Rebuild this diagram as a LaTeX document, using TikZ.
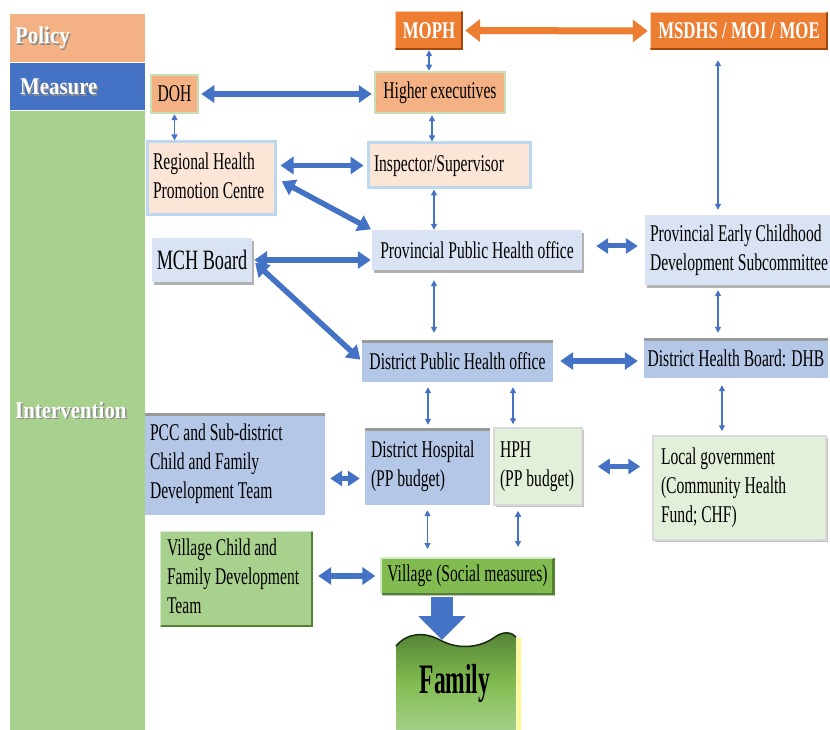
\documentclass[tikz,border=0pt]{standalone}
\usepackage{fontspec}
\setmainfont{Liberation Serif}[FakeStretch=0.65]
\newfontfamily\bandfont{Liberation Serif}[FakeStretch=0.87]
\newfontfamily\orgfont{Liberation Serif}[FakeStretch=0.7]
\newfontfamily\famfont{Liberation Serif}[FakeStretch=0.56]
\usetikzlibrary{arrows.meta,shadows,calc}
\definecolor{cPolicy}{HTML}{F4B183}
\definecolor{cMeasure}{HTML}{4472C4}
\definecolor{cInterv}{HTML}{A9D18E}
\definecolor{cOrange}{HTML}{ED7D31}
\definecolor{cOrangeDk}{HTML}{A0480F}
\definecolor{cOrangeLt}{HTML}{F8CBAD}
\definecolor{cSalmon}{HTML}{F4B183}
\definecolor{cGlowGreen}{HTML}{C5E0B4}
\definecolor{cPeach}{HTML}{FBE5D6}
\definecolor{cGlowBlue}{HTML}{BDD7EE}
\definecolor{cLightBlue}{HTML}{DAE3F3}
\definecolor{cMidBlue}{HTML}{B4C7E7}
\definecolor{cPaleGreen}{HTML}{E2F0D9}
\definecolor{cGreen}{HTML}{A9D18E}
\definecolor{cGreenDk}{HTML}{548235}
\definecolor{cGreenLt}{HTML}{D5EAC6}
\definecolor{cVillage}{HTML}{82BC50}
\definecolor{cArrow}{HTML}{4472C4}
\newcommand\lbox[2]{\makebox[#1][l]{\begin{tabular}{@{}l@{}}#2\end{tabular}}}
\newcommand\bandlabel[4]{%
  \node[bandlbl,text=black!45,anchor=base west] at (#2+1.5,#3+1.5) {#4};
  \node[bandlbl,anchor=base west] (#1) at (#2,#3) {#4};}
\newcommand\bevel[3]{%
  \draw[#2,line width=2.5pt] ([shift={(1.25pt,1.25pt)}]#1.south west) -- ([shift={(-1.25pt,1.25pt)}]#1.south east) -- ([shift={(-1.25pt,-1.25pt)}]#1.north east);
  \draw[#3,line width=1.5pt] ([shift={(0.75pt,2pt)}]#1.south west) -- ([shift={(0.75pt,-0.75pt)}]#1.north west) -- ([shift={(-2pt,-0.75pt)}]#1.north east);}
\newcommand\topedge[1]{%
  \draw[black!40, line width=3pt] ([yshift=-1.5pt]#1.north west) -- ([yshift=-1.5pt]#1.north east);}
\begin{document}
\begin{tikzpicture}[x=1pt,y=-1pt,
  every node/.style={font=\fontsize{24}{29}\selectfont, text=black, inner xsep=6pt, inner ysep=0pt},
  bandlbl/.style={font=\bandfont\bfseries\fontsize{24}{29}\selectfont, text=white, inner sep=0pt},
  orgbox/.style={fill=cOrange, font=\orgfont\bfseries\fontsize{24}{29}\selectfont, text=white},
  salmonbox/.style={fill=cSalmon, draw=cGlowGreen, line width=2.5pt},
  peachbox/.style={fill=cPeach, draw=cGlowBlue, line width=3pt},
  lbbox/.style={fill=cLightBlue, drop shadow={shadow xshift=2pt, shadow yshift=-3pt, opacity=0.3, fill=black}},
  mbbox/.style={fill=cMidBlue},
  pgbox/.style={fill=cPaleGreen, draw=black!15, line width=1.5pt, drop shadow={shadow xshift=2pt, shadow yshift=-2pt, opacity=0.25, fill=black}},
  gbox/.style={fill=cGreen},
  vbox/.style={fill=cVillage, draw=white, line width=2pt, drop shadow={shadow xshift=1.5pt, shadow yshift=-2pt, opacity=0.25, fill=black}},
  famstyle/.style={font=\famfont\bfseries\fontsize{42}{50}\selectfont, text=black, inner sep=0pt},
  bigarrow/.style={draw=cArrow, line width=5.5pt, {Triangle[width=17pt,length=13pt]}-{Triangle[width=17pt,length=13pt]}},
  midarrow/.style={draw=cArrow, line width=5pt, {Triangle[width=15pt,length=12pt]}-{Triangle[width=15pt,length=12pt]}},
  thinarrow/.style={draw=cArrow, line width=1.5pt, {Triangle[width=6pt,length=6pt]}-{Triangle[width=6pt,length=6pt]}},
  orangearrow/.style={draw=cOrange, line width=7pt, {Triangle[width=22pt,length=15pt]}-{Triangle[width=22pt,length=15pt]}},
  blockarrow/.style={draw=cArrow, line width=22pt, -{Triangle[width=46pt,length=24pt]}}
]
\useasboundingbox (0,0) rectangle (830,730);
% ---- left bands
\fill[cPolicy] (10,14) rectangle (145,62);
\fill[cMeasure] (10,63) rectangle (145,110);
\fill[cInterv] (10,111) rectangle (145,730);
\bandlabel{policy}{15}{44}{Policy}
\bandlabel{measure}{20}{95}{Measure}
\bandlabel{intervention}{15}{418}{Intervention}
% ---- boxes
\node[orgbox, minimum width=68pt, minimum height=39pt] (moph) at (429,30.5) {MOPH};
\bevel{moph}{cOrangeDk}{cOrangeLt}
\node[orgbox, minimum width=178pt, minimum height=38pt] (msdhs) at (739,31) {MSDHS / MOI / MOE};
\bevel{msdhs}{cOrangeDk}{cOrangeLt}
\node[salmonbox, minimum width=130pt, minimum height=41pt] (hexec) at (440,92.5) {Higher executives};
\node[salmonbox, minimum width=47pt, minimum height=38pt, inner xsep=3pt] (doh) at (174.5,94) {DOH};
\node[peachbox, minimum width=128pt, minimum height=73pt] (rhpc) at (211,178.5) {\lbox{116pt}{Regional Health\\Promotion Centre}};
\node[peachbox, minimum width=162pt, minimum height=45pt] (insp) at (449,165.5) {\lbox{150pt}{Inspector/Supervisor}};
\node[lbbox, minimum width=210pt, minimum height=40pt] (pph) at (477,250) {Provincial Public Health office};
\node[lbbox, minimum width=100pt, minimum height=44pt, inner xsep=3pt, font=\fontsize{28}{33}\selectfont] (mch) at (202,260) {MCH Board};
\node[lbbox, minimum width=185pt, minimum height=70pt, inner xsep=5pt] (pecds) at (737.5,250) {\lbox{175pt}{Provincial Early Childhood\\Development Subcommittee}};
\node[mbbox, minimum width=191pt, minimum height=42pt] (dph) at (457.5,361) {District Public Health office};
\topedge{dph}
\node[mbbox, minimum width=184pt, minimum height=40pt, inner xsep=3pt] (dhb) at (736,358) {District Health Board: DHB};
\topedge{dhb}
\node[mbbox, minimum width=180pt, minimum height=102pt, inner xsep=5pt] (pcc) at (235,464) {\lbox{170pt}{PCC and Sub-district\\Child and Family\\Development Team}};
\topedge{pcc}
\node[mbbox, minimum width=125pt, minimum height=77pt] (dhosp) at (427.5,466.5) {\lbox{113pt}{District Hospital\\(PP budget)}};
\topedge{dhosp}
\node[pgbox, minimum width=88pt, minimum height=77pt] (hph) at (538,466.5) {\lbox{76pt}{HPH\\(PP budget)}};
\node[pgbox, minimum width=173pt, minimum height=104pt, inner xsep=8pt] (lgov) at (739.5,488) {\lbox{157pt}{Local government\\(Community Health\\Fund; CHF)}};
\node[gbox, minimum width=153pt, minimum height=96pt, inner xsep=7pt] (vcfdt) at (236.5,579) {\lbox{139pt}{Village Child and\\Family Development\\Team}};
\bevel{vcfdt}{cGreenDk}{cGreenLt}
\node[vbox, minimum width=169pt, minimum height=36pt] (village) at (467.5,576) {Village (Social measures)};
\bevel{village}{cGreenDk}{cGreenLt}
% ---- family banner
\shade[top color=cGreenDk, bottom color=cGreen, middle color=cVillage]
  (396,646) .. controls (408,632) and (425,632) .. (440,640)
  .. controls (458,650) and (480,648) .. (495,637)
  .. controls (503,631) and (512,632) .. (516,637) -- (516,735) -- (396,735) -- cycle;
\draw[black!70!cGreenDk, line width=1.5pt]
  (396,646) .. controls (408,632) and (425,632) .. (440,640)
  .. controls (458,650) and (480,648) .. (495,637)
  .. controls (503,631) and (512,632) .. (516,637);
\draw[yellow!45, line width=4pt] (519,638) -- (519,735);
\node[famstyle] (family) at (455,683) {Family};
\coordinate (famtip) at (442,640);
% ---- connectors
\draw[orangearrow, shorten <=2pt, shorten >=2pt] (moph.east) -- (msdhs.west);
\coordinate (a3) at ([xshift=-8pt]hexec.south);
\coordinate (a4) at ([xshift=-15pt]insp.south);
\coordinate (a5) at ([xshift=-43pt]pph.south);
\coordinate (a6) at ([xshift=-21pt]msdhs.south);
\coordinate (a7) at ([xshift=-19.5pt]pecds.south);
\coordinate (a8) at ([xshift=-29.5pt]dph.south);
\coordinate (a9) at ([xshift=55.5pt]dph.south);
\coordinate (a10) at ([xshift=-14pt]dhb.south);
\coordinate (a11) at (dhosp.south);
\coordinate (a12) at ([xshift=-20pt]hph.south);
\draw[thinarrow] (moph.south) -- (moph.south |- hexec.north);
\draw[thinarrow] (doh.south) -- (doh.south |- rhpc.north);
\draw[thinarrow, shorten <=1pt] (a3) -- (a3 |- insp.north);
\draw[thinarrow] (a4) -- (a4 |- pph.north);
\draw[thinarrow, shorten <=10pt, shorten >=7pt] (a5) -- (a5 |- dph.north);
\draw[thinarrow, shorten <=10pt, shorten >=5pt] (a6) -- (a6 |- pecds.north);
\draw[thinarrow, shorten <=5pt, shorten >=5pt] (a7) -- (a7 |- dhb.north);
\draw[thinarrow, shorten <=5pt, shorten >=3pt] (a8) -- (a8 |- dhosp.north);
\draw[thinarrow, shorten <=5pt, shorten >=3pt] (a9) -- (a9 |- hph.north);
\draw[thinarrow, shorten <=7pt, shorten >=4pt] (a10) -- (a10 |- lgov.north);
\draw[thinarrow, shorten <=5pt, shorten >=8pt] (a11) -- (a11 |- village.north);
\draw[thinarrow, shorten <=5pt, shorten >=10pt] (a12) -- (a12 |- village.north);
\draw[bigarrow, shorten <=2pt, shorten >=2pt] (doh.east) -- (doh.east -| hexec.west);
\draw[bigarrow, shorten <=4pt, shorten >=3pt] (insp.west -| rhpc.east) -- (insp.west);
\draw[bigarrow, shorten <=6pt, shorten >=1pt] (rhpc.east) -- (pph.north west);
\draw[bigarrow, shorten <=2pt, shorten >=1pt] (mch.east) -- (mch.east -| pph.west);
\draw[bigarrow, shorten <=4pt, shorten >=2pt] (mch.east) -- (dph.west);
\coordinate (b6) at ([yshift=4pt]pph.east);
\draw[midarrow, shorten <=14pt, shorten >=7pt] (b6) -- (b6 -| pecds.west);
\draw[bigarrow, shorten <=7pt, shorten >=6pt] (dph.east) -- (dph.east -| dhb.west);
\coordinate (b8) at ([yshift=-12pt]dhosp.west);
\draw[midarrow, shorten <=5pt, shorten >=5pt] (b8 -| pcc.east) -- (b8);
\draw[midarrow, shorten <=15pt, shorten >=12pt] (hph.east) -- (hph.east -| lgov.west);
\draw[bigarrow, shorten <=5pt, shorten >=5pt] (village.west -| vcfdt.east) -- (village.west);
\draw[blockarrow] ([xshift=-25.5pt,yshift=-2pt]village.south) -- (famtip);
\end{tikzpicture}
\end{document}
